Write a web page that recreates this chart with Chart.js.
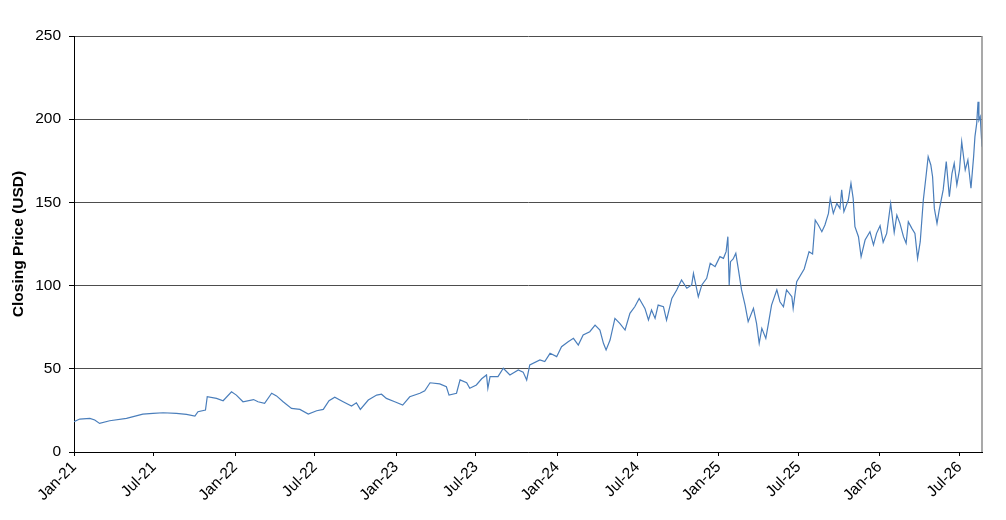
<!DOCTYPE html>
<html>
<head>
<meta charset="utf-8">
<title>Closing Price</title>
<script src="https://cdn.jsdelivr.net/npm/chart.js@4.4.1/dist/chart.umd.min.js"></script>
<style>
    html, body { margin: 0; padding: 0; background: #fff; }
    #wrap { width: 1006px; height: 520px; position: relative; }
</style>
</head>
<body>
<div id="wrap"><canvas id="priceChart"></canvas></div>
<script>
// Closing prices, roughly every 1-3 weeks
const dates = [
    '2021-01-01', '2021-01-14', '2021-02-06', '2021-02-17', '2021-02-28', '2021-03-23',
    '2021-04-30', '2021-06-06', '2021-06-29', '2021-07-22', '2021-08-21', '2021-09-13',
    '2021-10-02', '2021-10-09', '2021-10-26', '2021-10-30', '2021-11-20', '2021-12-05',
    '2021-12-24', '2022-01-04', '2022-01-19', '2022-02-12', '2022-02-22', '2022-03-09',
    '2022-03-25', '2022-04-05', '2022-04-20', '2022-05-09', '2022-05-28', '2022-06-16',
    '2022-07-05', '2022-07-20', '2022-08-02', '2022-08-15', '2022-09-03', '2022-09-22',
    '2022-10-03', '2022-10-12', '2022-10-30', '2022-11-18', '2022-11-29', '2022-12-10',
    '2022-12-29', '2023-01-16', '2023-02-01', '2023-02-24', '2023-03-07', '2023-03-19',
    '2023-04-10', '2023-04-25', '2023-05-01', '2023-05-18', '2023-05-26', '2023-06-10',
    '2023-06-17', '2023-07-02', '2023-07-14', '2023-07-25', '2023-07-28', '2023-08-02',
    '2023-08-20', '2023-09-01', '2023-09-16', '2023-10-05', '2023-10-16', '2023-10-24',
    '2023-10-31', '2023-11-23', '2023-12-04', '2023-12-16', '2023-12-31', '2024-01-11',
    '2024-01-26', '2024-02-07', '2024-02-18', '2024-02-29', '2024-03-15', '2024-03-27',
    '2024-04-07', '2024-04-15', '2024-04-21', '2024-04-30', '2024-05-11', '2024-05-22',
    '2024-06-03', '2024-06-14', '2024-06-25', '2024-07-05', '2024-07-18', '2024-07-26',
    '2024-08-02', '2024-08-10', '2024-08-17', '2024-08-29', '2024-09-05', '2024-09-17',
    '2024-09-28', '2024-10-09', '2024-10-21', '2024-11-01', '2024-11-05', '2024-11-16',
    '2024-11-24', '2024-12-05', '2024-12-13', '2024-12-24', '2025-01-04', '2025-01-12',
    '2025-01-18', '2025-01-22', '2025-01-25', '2025-01-28', '2025-02-03', '2025-02-09',
    '2025-02-15', '2025-02-22', '2025-03-02', '2025-03-09', '2025-03-21', '2025-03-28',
    '2025-04-03', '2025-04-09', '2025-04-18', '2025-04-24', '2025-05-01', '2025-05-13',
    '2025-05-20', '2025-05-28', '2025-06-04', '2025-06-16', '2025-06-19', '2025-06-27',
    '2025-07-14', '2025-07-25', '2025-08-02', '2025-08-08', '2025-08-15', '2025-08-23',
    '2025-08-30', '2025-09-07', '2025-09-11', '2025-09-18', '2025-09-26', '2025-10-03',
    '2025-10-07', '2025-10-12', '2025-10-22', '2025-10-28', '2025-11-02', '2025-11-06',
    '2025-11-14', '2025-11-20', '2025-11-29', '2025-12-10', '2025-12-18', '2025-12-25',
    '2026-01-02', '2026-01-09', '2026-01-17', '2026-01-26', '2026-02-03', '2026-02-09',
    '2026-02-16', '2026-02-24', '2026-03-02', '2026-03-07', '2026-03-15', '2026-03-22',
    '2026-03-28', '2026-04-03', '2026-04-10', '2026-04-16', '2026-04-21', '2026-04-27',
    '2026-05-01', '2026-05-05', '2026-05-11', '2026-05-16', '2026-05-25', '2026-06-01',
    '2026-06-08', '2026-06-14', '2026-06-19', '2026-06-25', '2026-07-01', '2026-07-06',
    '2026-07-14', '2026-07-20', '2026-07-27', '2026-08-02', '2026-08-05', '2026-08-09',
    '2026-08-12', '2026-08-14', '2026-08-17', '2026-08-21'
];

const prices = [
    18.2, 19.8, 20.2, 19.2, 17.2, 18.8,
    20.2, 22.8, 23.2, 23.6, 23.2, 22.6,
    21.6, 24.2, 25.2, 33.2, 32.2, 30.8,
    36.2, 34.2, 30.2, 31.5, 30.2, 29.3,
    35.3, 33.7, 30.2, 26.2, 25.6, 22.8,
    24.8, 25.6, 30.8, 32.9, 30.2, 27.6,
    29.6, 25.6, 31.2, 34.2, 34.7, 32.2,
    30.2, 28.2, 33.2, 35.3, 36.8, 41.6,
    40.9, 39.2, 34.2, 35.3, 43.3, 41.6,
    38.3, 40.3, 44.0, 46.3, 38.3, 45.3,
    45.3, 50.3, 46.3, 49.3, 48.0, 43.3,
    52.3, 55.3, 54.3, 59.3, 57.3, 63.3,
    66.3, 68.3, 64.3, 70.3, 72.3, 76.3,
    73.3, 65.3, 61.3, 67.3, 80.3, 77.3,
    73.3, 83.3, 87.3, 92.3, 86.3, 79.3,
    85.3, 80.3, 88.3, 87.3, 79.3, 92.3,
    97.4, 103.4, 98.4, 100.4, 107.4, 93.3,
    100.4, 104.4, 113.4, 111.4, 117.4, 116.4,
    120.4, 129.4, 100.4, 114.4, 116.0, 119.4,
    109.4, 97.4, 88.3, 78.3, 86.3, 77.3,
    65.3, 74.3, 68.3, 77.3, 88.3, 97.4,
    90.3, 87.3, 97.4, 93.3, 86.3, 102.3,
    110.0, 120.4, 119.0, 139.4, 136.4, 132.4,
    136.4, 143.4, 152.4, 143.4, 149.4, 146.4,
    157.5, 144.4, 151.4, 161.5, 152.4, 135.4,
    129.4, 117.4, 127.4, 132.4, 124.4, 131.4,
    136.0, 126.0, 131.4, 149.4, 132.0, 142.4,
    137.4, 129.4, 125.4, 138.4, 134.4, 131.4,
    116.4, 126.4, 151.4, 165.4, 177.5, 172.5,
    165.4, 146.4, 137.4, 145.4, 157.5, 174.5,
    153.4, 167.5, 173.5, 160.5, 169.5, 186.5,
    169.5, 175.5, 158.5, 177.5, 189.5, 197.5,
    210.5, 199.5, 201.5, 183.5
];

// Half-yearly tick marks on the date axis
const tickDates = [
    '2021-01-01', '2021-07-01', '2022-01-01', '2022-07-01', '2023-01-01', '2023-07-01',
    '2024-01-01', '2024-07-01', '2025-01-01', '2025-07-01', '2026-01-01', '2026-07-01'
];
const tickLabels = [
    'Jan-21', 'Jul-21', 'Jan-22', 'Jul-22', 'Jan-23', 'Jul-23',
    'Jan-24', 'Jul-24', 'Jan-25', 'Jul-25', 'Jan-26', 'Jul-26'
];

const yTicks = [0, 50, 100, 150, 200, 250];

const startDate = '2021-01-01';
const endDate = '2026-08-21';

/**
 * Days elapsed since the first trading date
 */
function dayOf(dateStr) {
    return (Date.parse(dateStr) - Date.parse(startDate)) / 86400000;
}

const points = dates.map((d, i) => ({ x: dayOf(d), y: prices[i] }));
const tickDays = tickDates.map(dayOf);

// Grey frame on the right edge of the plot
const rightFrame = {
    id: 'rightFrame',
    afterDraw(chart) {
        const { ctx, chartArea } = chart;
        ctx.save();
        ctx.strokeStyle = '#8c8c8c';
        ctx.lineWidth = 1.5;
        ctx.beginPath();
        ctx.moveTo(chartArea.right, chartArea.top);
        ctx.lineTo(chartArea.right, chartArea.bottom);
        ctx.stroke();
        ctx.restore();
    }
};

const tickFont = { family: '"Liberation Sans", Arial, sans-serif', size: 15.5 };

new Chart(document.getElementById('priceChart'), {
    type: 'line',
    data: {
        datasets: [{
            label: 'Closing Price (USD)',
            data: points,
            borderColor: '#4a7ebb',
            borderWidth: 1.2,
            pointRadius: 0,
            tension: 0,
            fill: false
        }]
    },
    options: {
        responsive: true,
        maintainAspectRatio: false,
        animation: false,
        devicePixelRatio: 1,
        layout: { padding: { top: 36, right: 24, left: 0, bottom: 0 } },
        plugins: {
            legend: { display: false },
            tooltip: { enabled: false }
        },
        scales: {
            x: {
                type: 'linear',
                min: 0,
                max: dayOf(endDate),
                afterBuildTicks: scale => {
                    scale.ticks = tickDays.map(v => ({ value: v }));
                },
                afterFit: scale => { scale.height = 68; },
                ticks: {
                    autoSkip: false,
                    minRotation: 45,
                    maxRotation: 45,
                    padding: 2,
                    color: '#000',
                    font: tickFont,
                    callback: value => tickLabels[tickDays.indexOf(value)]
                },
                grid: {
                    drawOnChartArea: false,
                    tickLength: 4,
                    tickColor: '#000'
                },
                border: { color: '#000', width: 1 }
            },
            y: {
                min: 0,
                max: 250,
                afterBuildTicks: scale => {
                    scale.ticks = yTicks.map(v => ({ value: v }));
                },
                afterFit: scale => { scale.width = 74; },
                ticks: {
                    padding: 8,
                    color: '#000',
                    font: tickFont
                },
                grid: {
                    color: '#4d4d4d',
                    lineWidth: 1,
                    tickLength: 5,
                    tickColor: '#000'
                },
                border: { color: '#000', width: 1 },
                title: {
                    display: true,
                    text: 'Closing Price (USD)',
                    color: '#000',
                    padding: { top: 9, bottom: 0 },
                    font: { family: '"Liberation Sans", Arial, sans-serif', size: 15.5, weight: 'bold' }
                }
            }
        }
    },
    plugins: [rightFrame]
});
</script>
</body>
</html>
